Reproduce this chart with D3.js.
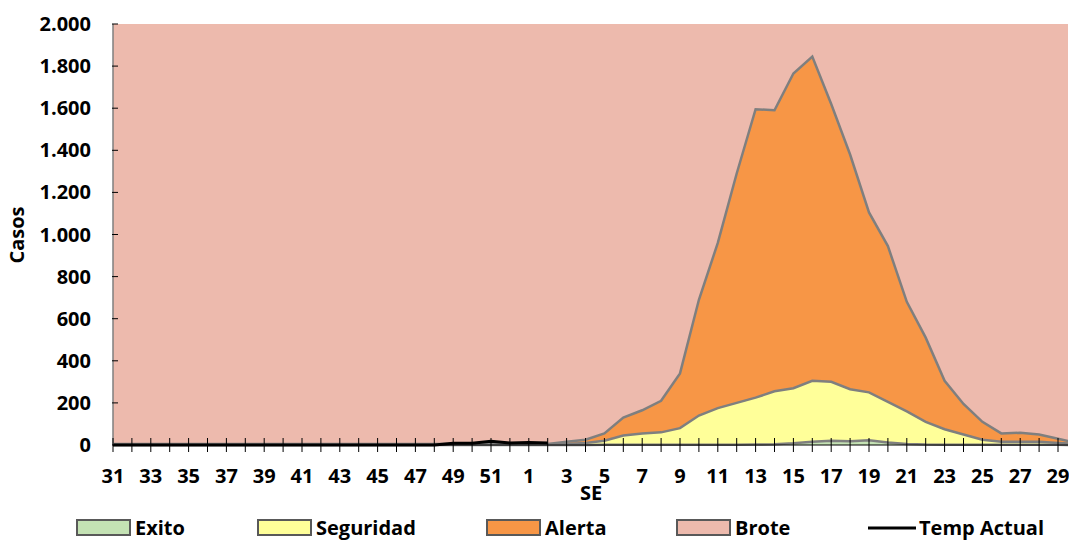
<!DOCTYPE html><html><head><meta charset="utf-8"><script src="https://cdn.jsdelivr.net/npm/d3@7"></script>
<style>body{margin:0;background:#fff}text{font-family:"Open Sans",sans-serif;font-weight:bold}</style></head><body><svg id="c" width="1069" height="541"></svg><script>
const weeks=[31,32,33,34,35,36,37,38,39,40,41,42,43,44,45,46,47,48,49,50,51,52,1,2,3,4,5,6,7,8,9,10,11,12,13,14,15,16,17,18,19,20,21,22,23,24,25,26,27,28,29,30];
const exito=[0,0,0,0,0,0,0,0,0,0,0,0,0,0,0,0,0,0,0,0,0,0,0,0,0,0,1,1,1,1,1,1,1,1,2,3,8,15,20,18,22,12,5,2,1,1,1,1,1,1,1,0];
const seguridad=[3,3,3,3,3,3,3,3,3,3,3,3,3,3,3,3,3,3,3,3,3,3,3,3,5,10,20,45,55,60,80,140,175,200,225,255,270,305,300,265,250,205,160,110,75,50,25,15,15,15,10,5];
const alerta=[5,5,5,5,5,5,5,5,5,5,5,5,5,5,5,5,5,5,5,5,5,5,5,5,15,25,55,130,165,210,340,690,960,1290,1595,1590,1765,1845,1620,1380,1105,945,680,510,305,195,110,55,58,50,30,10];
const brote=weeks.map(()=>2000);
const temp=[0,0,0,0,0,0,0,0,0,0,0,0,0,0,0,0,0,0,8,8,18,10,12,10];
const yTicks=[0,200,400,600,800,1000,1200,1400,1600,1800,2000];
const svg=d3.select("#c");
const L=113,R=1068,T=24,B=445,FS=20;
const x=d3.scaleLinear().domain([0,50]).range([113,1058]);
const y=d3.scaleLinear().domain([0,2000]).range([B,T]);
svg.append("clipPath").attr("id","cl").append("rect").attr("x",L).attr("y",T-2).attr("width",R-L).attr("height",B-T+4);
const g=svg.append("g").attr("clip-path","url(#cl)");
const ar=d=>d3.area().x((v,i)=>x(i)).y0(B).y1(v=>y(v))(d);
const ln=d=>d3.line().x((v,i)=>x(i)).y(v=>y(v))(d);
g.append("path").attr("d",ar(brote)).attr("fill","#EDBAAD");
[[alerta,"#F79646"],[seguridad,"#FFFF99"],[exito,"#C4E2B4"]].forEach(([d,c])=>{
 g.append("path").attr("d",ar(d)).attr("fill",c);
 g.append("path").attr("d",ln(d)).attr("fill","none").attr("stroke","#7f7f7f").attr("stroke-width",2.5);
});
g.append("path").attr("d",ln(temp)).attr("fill","none").attr("stroke","#000").attr("stroke-width",3);
svg.append("line").attr("x1",L).attr("x2",L).attr("y1",T).attr("y2",B).attr("stroke","#7f7f7f").attr("stroke-width",1.5);
yTicks.forEach(t=>{svg.append("line").attr("x1",L-1).attr("x2",L+5).attr("y1",y(t)).attr("y2",y(t)).attr("stroke","#000");
 svg.append("text").attr("x",91).attr("y",y(t)+7).attr("text-anchor","end").attr("font-size",FS).text(d3.format(",")(t).replace(/,/g,"."));});
svg.append("line").attr("x1",L).attr("x2",R).attr("y1",B).attr("y2",B).attr("stroke","#000").attr("stroke-width",1.2);
weeks.forEach((w,i)=>{svg.append("line").attr("x1",x(i)).attr("x2",x(i)).attr("y1",B-7).attr("y2",B+7).attr("stroke","#000");
 if(i%2==0&&x(i)<R) svg.append("text").attr("x",x(i)).attr("y",B+38).attr("text-anchor","middle").attr("font-size",FS).text(w);});
svg.append("text").attr("x",591).attr("y",500).attr("text-anchor","middle").attr("font-size",FS).text("SE");
svg.append("text").attr("transform","translate(24,235) rotate(-90)").attr("text-anchor","middle").attr("font-size",FS).text("Casos");
const leg=[["Exito","#C4E2B4",77],["Seguridad","#FFFF99",258],["Alerta","#F79646",487],["Brote","#EDBAAD",677]];
leg.forEach(([n,c,lx])=>{svg.append("rect").attr("x",lx).attr("y",520).attr("width",53).attr("height",15).attr("fill",c).attr("stroke","#595959").attr("stroke-width",2);
 svg.append("text").attr("x",lx+58).attr("y",535).attr("font-size",FS).text(n);});
svg.append("line").attr("x1",868).attr("x2",916).attr("y1",528).attr("y2",528).attr("stroke","#000").attr("stroke-width",3);
svg.append("text").attr("x",919).attr("y",535).attr("font-size",FS).text("Temp Actual");
</script></body></html>
